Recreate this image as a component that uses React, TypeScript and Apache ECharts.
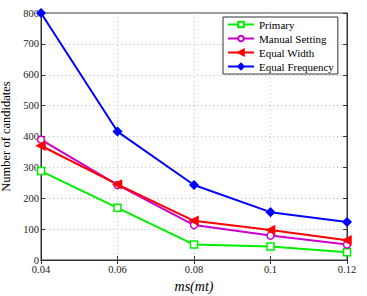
import React, { useEffect, useRef } from "react";
import * as echarts from "echarts";

const xValues = [0.04, 0.06, 0.08, 0.1, 0.12];
const primary = [288, 169, 50, 44, 25];
const manualSetting = [390, 243, 113, 79, 50];
const equalWidth = [370, 245, 127, 97, 64];
const equalFrequency = [800, 416, 243, 155, 123];

const FONT = "'Liberation Serif', 'Times New Roman', serif";

export default function App() {
  const ref = useRef<HTMLDivElement>(null);
  useEffect(() => {
    document.body.style.margin = "0";
    const chart = echarts.init(ref.current!, null, { renderer: "svg" });
    const mk = (name: string, data: number[], color: string, symbol: string, extra: any = {}) => ({
      name,
      type: "line",
      data: xValues.map((x, i) => [x, data[i]]),
      symbol,
      symbolSize: 7,
      showSymbol: true,
      lineStyle: { color, width: 2 },
      itemStyle: { color, borderColor: color, borderWidth: 1.5 },
      emphasis: { disabled: true },
      ...extra,
    });
    chart.setOption({
      animation: false,
      textStyle: { fontFamily: FONT },
      grid: {
        left: 41,
        top: 13,
        right: 20,
        bottom: 36,
        show: true,
        borderColor: "#333",
        borderWidth: 1,
        outerBoundsMode: "none",
        containLabel: false,
      },
      legend: {
        left: 223,
        top: 17,
        orient: "vertical",
        itemWidth: 26,
        itemHeight: 7,
        itemGap: 3,
        padding: [2, 4, 2, 4],
        borderColor: "#333",
        borderWidth: 1,
        backgroundColor: "#fff",
        textStyle: { fontFamily: FONT, fontSize: 11, color: "#000" },
        data: ["Primary", "Manual Setting", "Equal Width", "Equal Frequency"],
      },
      xAxis: [
        {
          type: "value",
          min: 0.04,
          max: 0.12,
          interval: 0.02,
          name: "ms(mt)",
          nameLocation: "middle",
          nameGap: 16,
          nameTextStyle: { fontFamily: FONT, fontSize: 14, fontStyle: "italic", color: "#000" },
          axisLine: { show: true, lineStyle: { color: "#333" } },
          axisTick: { show: true, inside: true, length: 4, lineStyle: { color: "#333" } },
          axisLabel: { fontFamily: FONT, fontSize: 10.5, color: "#222", margin: 4, lineHeight: 11 },
          splitLine: { show: true, lineStyle: { type: [1, 3], color: "#bbb" } },
        },
        {
          type: "value",
          position: "top",
          min: 0.04,
          max: 0.12,
          interval: 0.02,
          axisLine: { show: true, lineStyle: { color: "#333" } },
          axisTick: { show: true, inside: true, length: 4, lineStyle: { color: "#333" } },
          axisLabel: { show: false },
          splitLine: { show: false },
        },
      ],
      yAxis: [
        {
          type: "value",
          min: 0,
          max: 800,
          interval: 100,
          name: "Number of candidates",
          nameLocation: "middle",
          nameGap: 19,
          nameTextStyle: { fontFamily: FONT, fontSize: 12.5, color: "#000", lineHeight: 13 },
          axisLine: { show: true, lineStyle: { color: "#333" } },
          axisTick: { show: true, inside: true, length: 4, lineStyle: { color: "#333" } },
          axisLabel: { fontFamily: FONT, fontSize: 10.5, color: "#222", margin: 2, lineHeight: 10 },
          splitLine: { show: true, lineStyle: { type: [1, 3], color: "#bbb" } },
        },
        {
          type: "value",
          position: "right",
          min: 0,
          max: 800,
          interval: 100,
          axisLine: { show: true, lineStyle: { color: "#333" } },
          axisTick: { show: true, inside: true, length: 4, lineStyle: { color: "#333" } },
          axisLabel: { show: false },
          splitLine: { show: false },
        },
      ],
      series: [
        mk("Primary", primary, "#00ee00", "rect", { itemStyle: { color: "#fff", borderColor: "#00ee00", borderWidth: 1.5 } }),
        mk("Manual Setting", manualSetting, "#cc00cc", "circle", { itemStyle: { color: "#fff", borderColor: "#cc00cc", borderWidth: 1.5 } }),
        mk("Equal Width", equalWidth, "#ff0000", "triangle", { symbolRotate: 90, symbolSize: 8 }),
        mk("Equal Frequency", equalFrequency, "#0000ff", "diamond", { symbolSize: 8 }),
      ],
    });
    return () => chart.dispose();
  }, []);
  return <div ref={ref} style={{ width: 367, height: 296 }} />;
}
